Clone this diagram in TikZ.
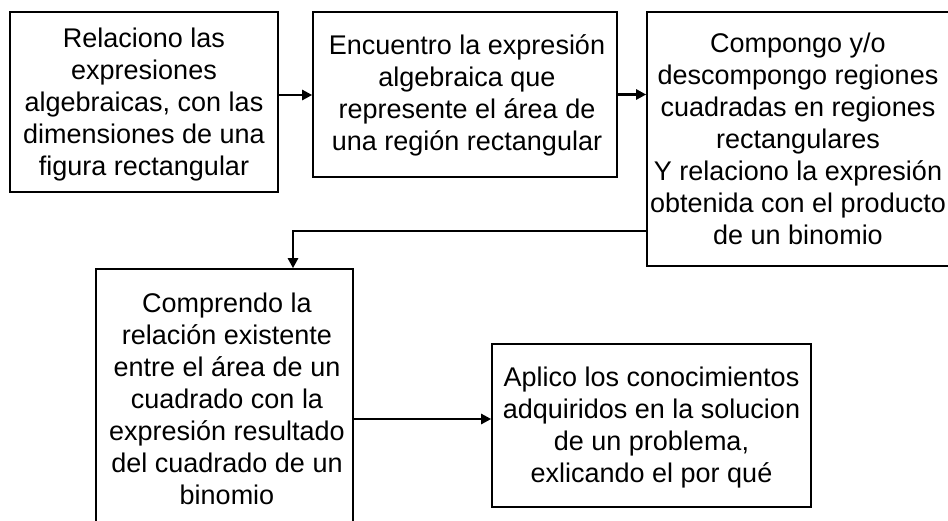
\documentclass[tikz,border=0pt]{standalone}
\usepackage{fontspec}
\setmainfont{Liberation Sans}
\usetikzlibrary{arrows.meta,calc}
\begin{document}
\begin{tikzpicture}[x=1pt,y=-1pt,
  box/.style={draw,line width=1.6pt,inner sep=0pt},
  txt/.style={align=center,font=\fontsize{27}{32}\selectfont,inner sep=0pt},
  arr/.style={line width=2.4pt,-{Triangle[length=10pt,width=10pt]}}]
\useasboundingbox (0,0) rectangle (948,520);
\node[box,minimum width=268pt,minimum height=180pt] (b1) at (144,102) {};
\node[box,minimum width=304pt,minimum height=165pt] (b2) at (465,94.5) {};
\node[box,minimum width=303pt,minimum height=254pt] (b3) at (798.5,139) {};
\node[box,minimum width=257pt,minimum height=271pt] (b4) at (224.5,404.5) {};
\node[box,minimum width=319pt,minimum height=163pt] (b5) at (651.5,425.5) {};
\node[txt] (t1) at (144,105) {Relaciono las\\expresiones\\algebraicas, con las\\dimensiones de una\\figura rectangular};
\node[txt] (t2) at (467,95.5) {Encuentro la expresión\\algebraica que\\represente el área de\\una región rectangular};
\node[txt] (t3) at (798,139) {Compongo y/o\\descompongo regiones\\cuadradas en regiones\\rectangulares\\Y relaciono la expresión\\obtenida con el producto\\de un binomio};
\node[txt] (t4) at (227,399) {Comprendo la\\relación existente\\entre el área de un\\cuadrado con la\\expresión resultado\\del cuadrado de un\\binomio};
\node[txt] (t5) at (651.5,427.5) {Aplico los conocimientos\\adquiridos en la solucion\\de un problema,\\exlicando el por qué};
\draw[arr] ([yshift=7pt]b1.east) -- ([yshift=7pt]b1.east -| b2.west);
\draw[arr] (b2.east) -- (b2.east -| b3.west);
\draw[arr] ([yshift=-92pt]b3.west) -| ([xshift=68.5pt]b4.north);
\draw[arr] ([yshift=-14.5pt]b4.east) -- ([yshift=-14.5pt]b4.east -| b5.west);
\end{tikzpicture}
\end{document}
